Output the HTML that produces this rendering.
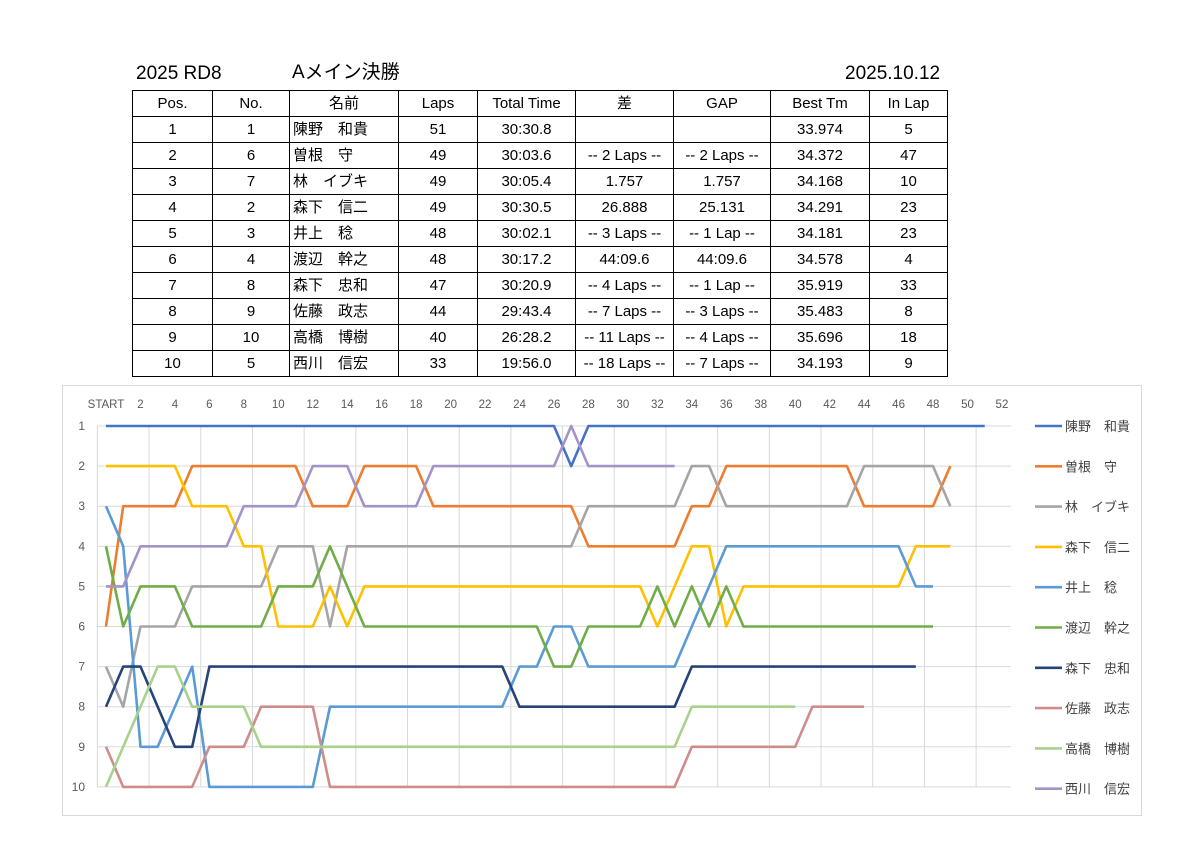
<!DOCTYPE html>
<html><head><meta charset="utf-8"><style>
body{margin:0;background:#fff;width:1200px;height:849px;position:relative;overflow:hidden;font-family:"Liberation Sans","Noto Sans CJK JP",sans-serif;}
.t{position:absolute;font-size:19px;color:#000;top:63px;line-height:22px}
table{position:absolute;left:132px;top:90px;border-collapse:collapse;font-size:15px;table-layout:fixed}
td{border:1.5px solid #000;height:25px;padding:0;text-align:center;line-height:24px;vertical-align:middle;padding-top:1px;box-sizing:border-box}
td.n{text-align:left;padding-left:3px}
#ch{position:absolute;left:62px;top:385px;width:1078px;height:429px;border:1px solid #d9d9d9;}
</style></head><body>
<div class="t" style="left:136px">2025 RD8</div>
<div class="t" style="left:292px;top:62px">Aメイン決勝</div>
<div class="t" style="left:845px">2025.10.12</div>
<table>
<colgroup><col style="width:80px"><col style="width:77px"><col style="width:109px"><col style="width:79px"><col style="width:98px"><col style="width:98px"><col style="width:97px"><col style="width:99px"><col style="width:78px"></colgroup>
<tr style="height:26.3px"><td>Pos.</td><td>No.</td><td>名前</td><td>Laps</td><td>Total Time</td><td>差</td><td>GAP</td><td>Best Tm</td><td>In Lap</td></tr>
<tr style="height:25.65px"><td>1</td><td>1</td><td class="n">陳野　和貴</td><td>51</td><td>30:30.8</td><td></td><td></td><td>33.974</td><td>5</td></tr>
<tr style="height:25.65px"><td>2</td><td>6</td><td class="n">曽根　守</td><td>49</td><td>30:03.6</td><td>-- 2 Laps --</td><td>-- 2 Laps --</td><td>34.372</td><td>47</td></tr>
<tr style="height:25.65px"><td>3</td><td>7</td><td class="n">林　イブキ</td><td>49</td><td>30:05.4</td><td>1.757</td><td>1.757</td><td>34.168</td><td>10</td></tr>
<tr style="height:25.65px"><td>4</td><td>2</td><td class="n">森下　信二</td><td>49</td><td>30:30.5</td><td>26.888</td><td>25.131</td><td>34.291</td><td>23</td></tr>
<tr style="height:25.65px"><td>5</td><td>3</td><td class="n">井上　稔</td><td>48</td><td>30:02.1</td><td>-- 3 Laps --</td><td>-- 1 Lap --</td><td>34.181</td><td>23</td></tr>
<tr style="height:25.65px"><td>6</td><td>4</td><td class="n">渡辺　幹之</td><td>48</td><td>30:17.2</td><td>44:09.6</td><td>44:09.6</td><td>34.578</td><td>4</td></tr>
<tr style="height:25.65px"><td>7</td><td>8</td><td class="n">森下　忠和</td><td>47</td><td>30:20.9</td><td>-- 4 Laps --</td><td>-- 1 Lap --</td><td>35.919</td><td>33</td></tr>
<tr style="height:25.65px"><td>8</td><td>9</td><td class="n">佐藤　政志</td><td>44</td><td>29:43.4</td><td>-- 7 Laps --</td><td>-- 3 Laps --</td><td>35.483</td><td>8</td></tr>
<tr style="height:25.65px"><td>9</td><td>10</td><td class="n">高橋　博樹</td><td>40</td><td>26:28.2</td><td>-- 11 Laps --</td><td>-- 4 Laps --</td><td>35.696</td><td>18</td></tr>
<tr style="height:25.65px"><td>10</td><td>5</td><td class="n">西川　信宏</td><td>33</td><td>19:56.0</td><td>-- 18 Laps --</td><td>-- 7 Laps --</td><td>34.193</td><td>9</td></tr>
</table>
<div id="ch"></div>
<svg id="sv" width="1200" height="849" style="position:absolute;left:0;top:0" font-family="Liberation Sans, Noto Sans CJK JP, sans-serif"></svg>
<script>
var X=function(i){return 106+17.23*i},Y=function(p){return 426+(p-1)*40.1};
var s='';
for(var p=1;p<=10;p++){s+='<line x1="97" x2="1011" y1="'+Y(p)+'" y2="'+Y(p)+'" stroke="#d9d9d9" stroke-width="1"/>';
s+='<text x="85" y="'+(Y(p)+4)+'" font-size="12" fill="#595959" text-anchor="end">'+p+'</text>';}
for(var g=-0.5;g<=52.6;g+=3){s+='<line x1="'+X(g)+'" x2="'+X(g)+'" y1="426" y2="787" stroke="#d9d9d9" stroke-width="1"/>';}
for(var i=0;i<=52;i+=2){s+='<text x="'+X(i)+'" y="408" font-size="11.5" fill="#595959" text-anchor="middle">'+(i==0?'START':i)+'</text>';}
function rl(a){var r=[];for(var k=0;k<a.length;k+=2)for(var j=0;j<a[k+1];j++)r.push(a[k]);return r;}
var S=[
['陳野　和貴','#4472C4',rl([1,27,2,1,1,24])],
['曽根　守','#ED7D31',rl([6,1,3,4,2,7,3,3,2,4,3,9,4,6,3,2,2,8,3,5,2,1])],
['林　イブキ','#A5A5A5',rl([7,1,8,1,6,3,5,5,4,3,6,1,4,14,3,6,2,2,3,8,2,5,3,1])],
['森下　信二','#FFC000',rl([2,5,3,3,4,2,6,3,5,1,6,1,5,17,6,1,5,1,4,2,6,1,5,10,4,3])],
['井上　稔','#5B9BD5',rl([3,1,4,1,9,2,8,1,7,1,10,7,8,11,7,2,6,2,7,6,6,1,5,1,4,11,5,2])],
['渡辺　幹之','#70AD47',rl([4,1,6,1,5,3,6,5,5,3,4,1,5,1,6,11,7,2,6,4,5,1,6,1,5,1,6,1,5,1,6,12])],
['森下　忠和','#264478',rl([8,1,7,2,8,1,9,2,7,18,8,10,7,14])],
['佐藤　政志','#D08C8A',rl([9,1,10,5,9,3,8,4,10,21,9,7,8,4])],
['高橋　博樹','#A9D18E',rl([10,1,9,1,8,1,7,2,8,4,9,25,8,7])],
['西川　信宏','#A393C8',rl([5,2,4,6,3,4,2,3,3,4,2,8,1,1,2,6])]];
S.forEach(function(q,k){var pts=q[2].map(function(v,i){return X(i).toFixed(1)+','+Y(v).toFixed(1)}).join(' ');
s+='<polyline points="'+pts+'" fill="none" stroke="'+q[1]+'" stroke-width="2.6" stroke-linejoin="round"/>';
var ly=426+k*40.3;
s+='<line x1="1035" x2="1062" y1="'+ly+'" y2="'+ly+'" stroke="'+q[1]+'" stroke-width="2.6"/>';
s+='<text x="1065" y="'+(ly+5)+'" font-size="13" fill="#404040">'+q[0]+'</text>';});
document.getElementById('sv').innerHTML=s;
</script>
</body></html>
